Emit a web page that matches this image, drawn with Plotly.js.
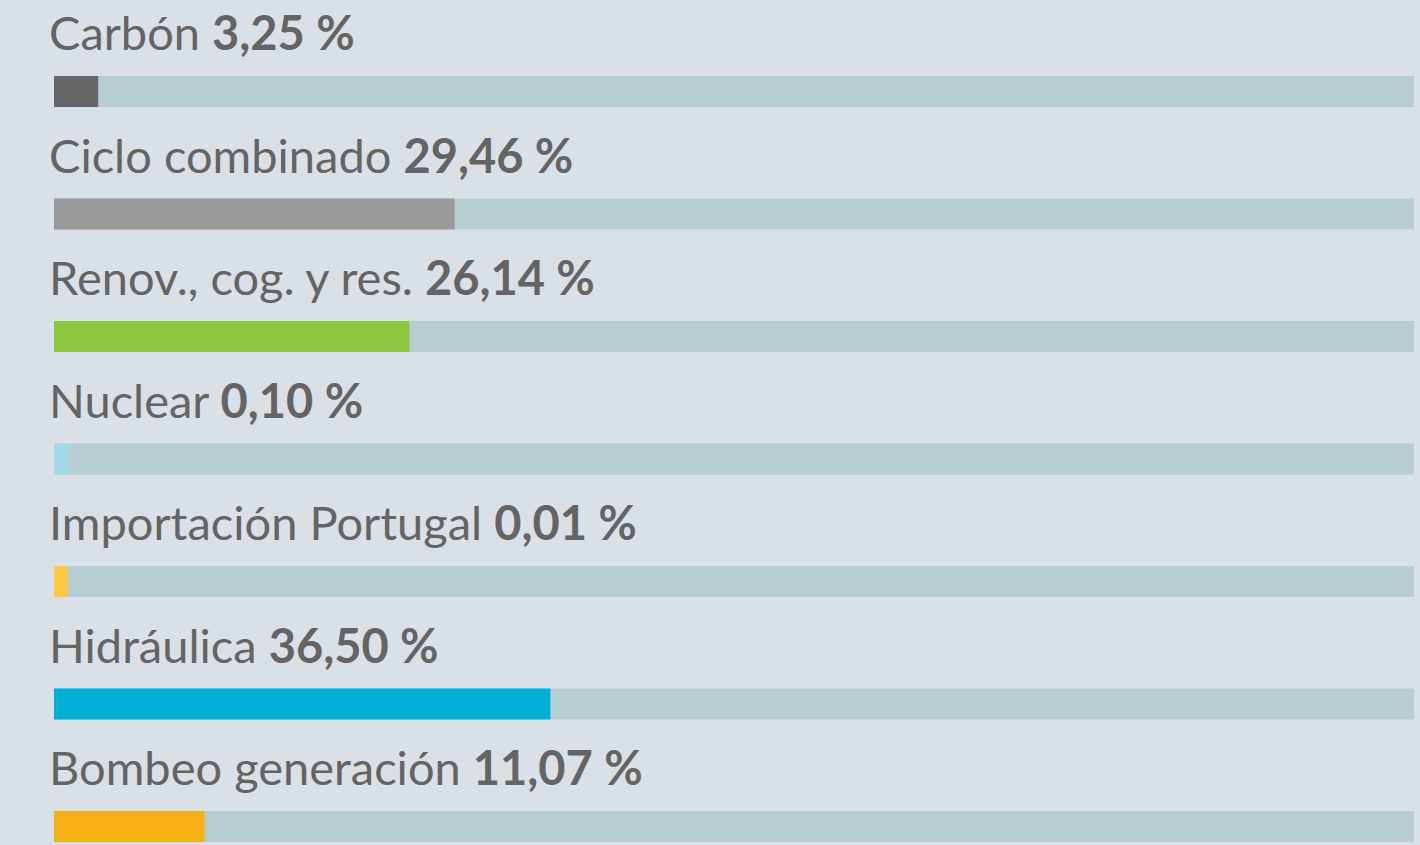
<!DOCTYPE html>
<html><head><meta charset="utf-8">
<script src="https://cdn.plot.ly/plotly-3.0.1.min.js"></script>
<style>html,body{margin:0;padding:0;background:#d9e1e7;}#chart{width:1420px;height:845px;}</style>
</head><body><div id="chart"></div>
<script>
const categories = ["Carbón","Ciclo combinado","Renov., cog. y res.","Nuclear","Importación Portugal","Hidráulica","Bombeo generación"];
const values = [3.25, 29.46, 26.14, 0.10, 0.01, 36.50, 11.07];
const colors = ["#666666","#999999","#8dc63f","#a1d9ea","#ffc843","#00b0d4","#f5b012"];
const total = 100;
const minVisible = 1.0;

const idx = categories.map((c,i)=>i);
const track = {type:'bar', orientation:'h', y: idx, x: idx.map(()=>total), marker:{color:'#b6cdd2'}, width:0.253, hoverinfo:'skip', showlegend:false};
const bars = {type:'bar', orientation:'h', y: idx, x: values.map(v=>Math.max(v,minVisible)), marker:{color:colors}, width:0.253, showlegend:false,
  text: categories, hovertemplate:'%{text}<extra></extra>', textposition:'none'};

const fmt = v => v.toFixed(2).replace('.', ',') + ' %';
const annotations = categories.map((c,i)=>({
  xref:'paper', yref:'y', x:0, xshift:-7, y:i-0.24, xanchor:'left', yanchor:'bottom', showarrow:false,
  text: c + ' <b>' + fmt(values[i]) + '</b>',
  font:{family:'Lato, "Open Sans", sans-serif', size:47, color:'#646464'}
}));

Plotly.newPlot('chart', [track, bars], {
  width:1420, height:845, barmode:'overlay',
  margin:{l:54, r:6, t:0, b:0},
  paper_bgcolor:'#d9e1e7', plot_bgcolor:'#d9e1e7',
  xaxis:{range:[0,total], visible:false, fixedrange:true},
  yaxis:{range:[6.151,-0.747], visible:false, fixedrange:true},
  annotations: annotations
}, {displayModeBar:false, staticPlot:true});
</script></body></html>
